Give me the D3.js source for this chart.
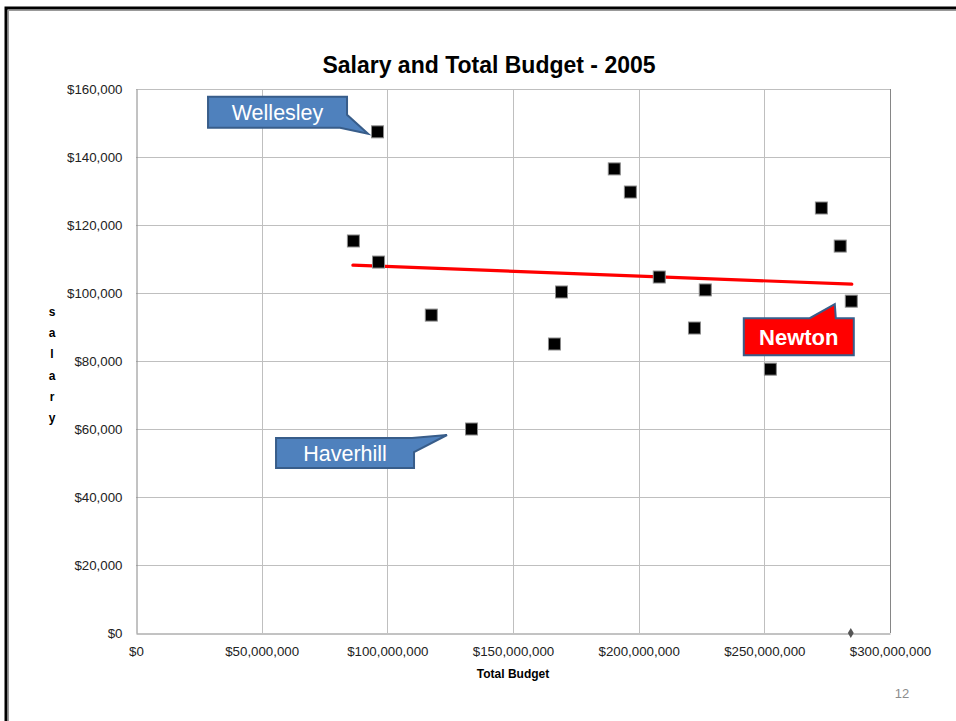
<!DOCTYPE html>
<html><head><meta charset="utf-8">
<script src="https://cdn.jsdelivr.net/npm/d3@7"></script>
<style>html,body{margin:0;padding:0;background:#fff;}svg{display:block;}</style>
</head><body>
<svg id="c" width="956" height="721"></svg>
<script>
// ---- data ----
const budget = [86.3e6, 95.9e6, 96.3e6, 117.3e6, 133.3e6, 166.3e6, 169.1e6, 190.1e6, 196.5e6, 208.0e6, 222.0e6, 226.3e6, 252.2e6, 272.5e6, 280.0e6, 284.4e6];
const salary = [115300, 147400, 109100, 93500, 60000, 85000, 100300, 136500, 129700, 104700, 89700, 100900, 77600, 125000, 113800, 97600];
const extraPoint = [284.4e6, 0];
const trendX = [86.3e6, 284.8e6];
const trendY = [108200, 102600];
const xTicks = [0, 50e6, 100e6, 150e6, 200e6, 250e6, 300e6];
const yTicks = [0, 20000, 40000, 60000, 80000, 100000, 120000, 140000, 160000];
const calloutLabels = ["Wellesley", "Haverhill", "Newton"];
const calloutIndex = [1, 4, 15];

const svg = d3.select("#c");
const font = "'Liberation Sans', Arial, sans-serif";
const L = 136, R = 890, T = 89, B = 633;
const x = d3.scaleLinear().domain([0, 300e6]).range([L, R]);
const y = d3.scaleLinear().domain([0, 160000]).range([B, T]);

// page frame
svg.append("rect").attr("x", 6).attr("y", 8).attr("width", 1000).attr("height", 1000)
  .attr("fill", "none").attr("stroke", "#000").attr("stroke-width", 3);
svg.append("rect").attr("x", 8.5).attr("y", 10.5).attr("width", 1000).attr("height", 1000)
  .attr("fill", "none").attr("stroke", "#999").attr("stroke-width", 1);

// gridlines
const g = svg.append("g");
g.selectAll(".gy").data(yTicks.filter(d => d > 0)).enter().append("line")
  .attr("x1", L).attr("x2", R).attr("y1", d => Math.round(y(d)) + 0.5).attr("y2", d => Math.round(y(d)) + 0.5)
  .attr("stroke", "#bfbfbf").attr("stroke-width", 1);
g.selectAll(".gx").data(xTicks.filter(d => d > 0)).enter().append("line")
  .attr("y1", T).attr("y2", B).attr("x1", d => Math.round(x(d)) + 0.5).attr("x2", d => Math.round(x(d)) + 0.5)
  .attr("stroke", d => d === 300e6 ? "#868686" : "#bfbfbf").attr("stroke-width", 1);

// axes
const xAxis = d3.axisBottom(x).tickValues(xTicks).tickSize(0).tickPadding(13)
  .tickFormat(d => "$" + d3.format(",")(d));
const xa = svg.append("g").attr("transform", `translate(0,${B + 0.5})`).call(xAxis);
xa.select(".domain").attr("stroke", "#868686");
xa.selectAll("text").attr("font-family", font).attr("font-size", "13.3px").attr("fill", "#222");

const yAxis = d3.axisLeft(y).tickValues(yTicks).tickSize(0).tickPadding(14)
  .tickFormat(d => "$" + d3.format(",")(d));
const ya = svg.append("g").attr("transform", `translate(${L + 0.5},0)`).call(yAxis);
ya.select(".domain").attr("stroke", "#868686");
ya.selectAll("text").attr("font-family", font).attr("font-size", "13.3px").attr("fill", "#222");

// titles
svg.append("text").attr("x", 489).attr("y", 73).attr("text-anchor", "middle")
  .attr("font-family", font).attr("font-weight", "bold").attr("font-size", "23px").attr("fill", "#000")
  .text("Salary and Total Budget - 2005");
svg.append("text").attr("x", 513).attr("y", 678).attr("text-anchor", "middle")
  .attr("font-family", font).attr("font-weight", "bold").attr("font-size", "12px").attr("fill", "#000")
  .text("Total Budget");
const yl = svg.append("text").attr("x", 52).attr("y", 316).attr("text-anchor", "middle")
  .attr("font-family", font).attr("font-weight", "bold").attr("font-size", "12px").attr("fill", "#000");
"salary".split("").forEach((ch, i) => {
  yl.append("tspan").attr("x", 52).attr("dy", i === 0 ? 0 : 21.2).text(ch);
});

// trend line
svg.append("line").attr("x1", x(trendX[0])).attr("y1", y(trendY[0]))
  .attr("x2", x(trendX[1])).attr("y2", y(trendY[1]))
  .attr("stroke", "#ff0000").attr("stroke-width", 3.2).attr("stroke-linecap", "round");

// points
const pts = budget.map((b, i) => ({b, s: salary[i]}));
const ms = 12;
svg.selectAll(".pt").data(pts).enter().append("rect")
  .attr("x", d => x(d.b) - ms / 2 + 0.5).attr("y", d => y(d.s) - ms / 2)
  .attr("width", ms).attr("height", ms)
  .attr("fill", "#000").attr("stroke", "#8c8c8c").attr("stroke-width", 1);

// zero point diamond
svg.append("path").attr("d", d3.symbol(d3.symbolDiamond, 30)())
  .attr("transform", `translate(${x(extraPoint[0])},${y(extraPoint[1])})`)
  .attr("fill", "#555");

// callouts: box offsets relative to target point, pointer offsets, outline order
const callouts = [
  {dx0: -169, dy0: -35, w: 139, h: 31, fill: "#4f81bd", bold: false, fs: 21.5,
   tip: [-9, 2], b1: [-30, -17], b2: [-37, -4], order: ["TL", "TR", "b1", "tip", "b2", "BL"]},
  {dx0: -195, dy0: 9, w: 138, h: 30, fill: "#4f81bd", bold: false, fs: 21.5,
   tip: [-24, 6], b1: [-59, 9], b2: [-57, 23], order: ["TL", "b1", "tip", "b2", "BR", "BL"]},
  {dx0: -107, dy0: 17, w: 110, h: 37, fill: "#ff0000", bold: true, fs: 22,
   tip: [-16, 3], b1: [-41, 17], b2: [-15, 17], order: ["TL", "b1", "tip", "b2", "TR", "BR", "BL"]}
];
calloutIndex.forEach((pi, k) => {
  const c = callouts[k];
  const px = x(budget[pi]), py = y(salary[pi]);
  const bx = px + c.dx0, by = py + c.dy0;
  const P = {
    TL: [bx, by], TR: [bx + c.w, by], BR: [bx + c.w, by + c.h], BL: [bx, by + c.h],
    tip: [px + c.tip[0], py + c.tip[1]], b1: [px + c.b1[0], py + c.b1[1]], b2: [px + c.b2[0], py + c.b2[1]]
  };
  const d = "M" + c.order.map(kk => P[kk].join(",")).join("L") + "Z";
  svg.append("path").attr("d", d).attr("fill", c.fill).attr("stroke", "#385d8a")
    .attr("stroke-width", 2).attr("stroke-linejoin", "miter");
  svg.append("text").attr("x", bx + c.w / 2).attr("y", by + c.h / 2 + c.fs * 0.36).attr("text-anchor", "middle")
    .attr("font-family", font).attr("font-size", c.fs + "px").attr("font-weight", c.bold ? "bold" : "normal")
    .attr("fill", "#fff").text(calloutLabels[k]);
});

// page number
svg.append("text").attr("x", 902).attr("y", 698).attr("text-anchor", "middle")
  .attr("font-family", font).attr("font-size", "13px").attr("fill", "#8c8c8c").text("12");
</script>
</body></html>
